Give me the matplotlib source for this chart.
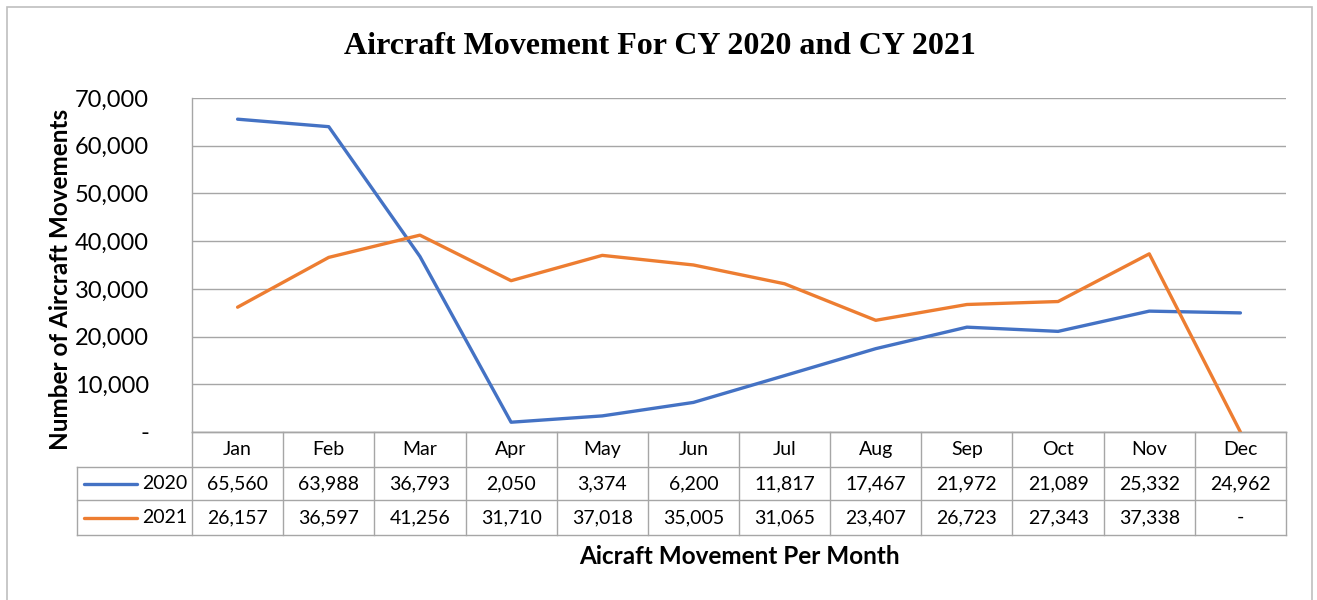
import matplotlib
matplotlib.use("Agg")
import matplotlib.pyplot as plt
from matplotlib.patches import Rectangle
from matplotlib.ticker import FuncFormatter

months = ["Jan", "Feb", "Mar", "Apr", "May", "Jun", "Jul", "Aug", "Sep", "Oct", "Nov", "Dec"]
series_names = ["2020", "2021"]
values_2020 = [65560, 63988, 36793, 2050, 3374, 6200, 11817, 17467, 21972, 21089, 25332, 24962]
values_2021 = [26157, 36597, 41256, 31710, 37018, 35005, 31065, 23407, 26723, 27343, 37338, 0]
colors = ["#4472C4", "#ED7D31"]

W, H = 1317, 600
fig = plt.figure(figsize=(W / 100, H / 100), dpi=100)
plt.rcParams["font.family"] = ["Lato", "DejaVu Sans"]

# outer chart border
fig.patches.append(Rectangle((7 / W, -0.02), (1312 - 7) / W, 1 - 7 / H + 0.02,
                             transform=fig.transFigure, fill=False,
                             edgecolor="#bfbfbf", linewidth=1.2))

left, right, top, bottom = 192, 1286, 98, 432
ax = fig.add_axes([left / W, 1 - bottom / H, (right - left) / W, (bottom - top) / H])

x = [i + 0.5 for i in range(len(months))]
for vals, name, c in zip([values_2020, values_2021], series_names, colors):
    ax.plot(x, vals, color=c, linewidth=2.4, solid_capstyle="round", zorder=3)

ax.set_xlim(0, 12)
ax.set_ylim(0, 70000)
ax.set_yticks(range(0, 70001, 10000))
ax.yaxis.set_major_formatter(FuncFormatter(lambda v, p: "-" if v == 0 else f"{int(v):,}"))
ax.tick_params(axis="y", length=0, labelsize=17, pad=31)
ax.set_xticks([])
ax.grid(axis="y", color="#a6a6a6", linewidth=1)
for s in ax.spines.values():
    s.set_color("#a6a6a6")
    s.set_linewidth(1)
ax.spines["right"].set_visible(False)
ax.spines["top"].set_visible(False)
ax.set_axisbelow(True)


def fx(px):
    return px / W


def fy(py):
    return 1 - py / H


# data table below the plot
line_kw = dict(color="#a6a6a6", linewidth=1, clip_on=False, transform=fig.transFigure)
rows_y = [432, 467, 500, 535]
leg_left = 77

fig.add_artist(plt.Line2D([fx(left), fx(right)], [fy(432), fy(432)], **line_kw))
for yy in rows_y[1:]:
    fig.add_artist(plt.Line2D([fx(leg_left), fx(right)], [fy(yy), fy(yy)], **line_kw))
col_w = (right - left) / 12
for i in range(13):
    xx = left + i * col_w
    fig.add_artist(plt.Line2D([fx(xx), fx(xx)], [fy(432), fy(535)], **line_kw))
fig.add_artist(plt.Line2D([fx(leg_left), fx(leg_left)], [fy(467), fy(535)], **line_kw))

fs = 14
for i, m in enumerate(months):
    cx = left + (i + 0.5) * col_w
    fig.text(fx(cx), fy(449.5), m, ha="center", va="center", fontsize=fs)
    for r, vals in enumerate([values_2020, values_2021]):
        v = vals[i]
        label = "-" if v == 0 else f"{v:,}"
        cy = (rows_y[r + 1] + rows_y[r + 2]) / 2
        fig.text(fx(cx), fy(cy), label, ha="center", va="center", fontsize=fs)

for r, (name, c) in enumerate(zip(series_names, colors)):
    cy = (rows_y[r + 1] + rows_y[r + 2]) / 2
    fig.add_artist(plt.Line2D([fx(84), fx(137)], [fy(cy), fy(cy)], color=c,
                              linewidth=2.4, solid_capstyle="round"))
    fig.text(fx(187), fy(cy), name, ha="right", va="center", fontsize=fs)

fig.text(fx(660), fy(47), "Aircraft Movement For CY 2020 and CY 2021",
         ha="center", va="center", fontsize=23, fontweight="bold",
         family=["Liberation Serif", "DejaVu Serif"])
fig.text(fx(60), fy(279), "Number of Aircraft Movements", rotation=90,
         ha="center", va="center", fontsize=17.5, fontweight="bold")
fig.text(fx(739), fy(557), "Aicraft Movement Per Month",
         ha="center", va="center", fontsize=17.5, fontweight="bold")

fig.savefig("out.png", dpi=100)
